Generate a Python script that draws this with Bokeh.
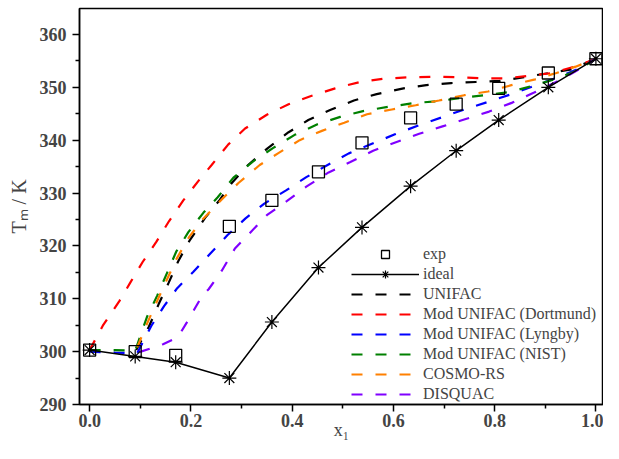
from bokeh.plotting import figure
from bokeh.models import FixedTicker, Legend, LegendItem
from bokeh.embed import file_html
from bokeh.resources import INLINE

# ---------------- data ----------------
x_exp = [0.0, 0.090, 0.170, 0.276, 0.360, 0.452, 0.538, 0.634, 0.724, 0.808, 0.906, 1.0]
T_exp = [300.3, 300.0, 299.3, 323.7, 328.6, 334.0, 339.5, 344.2, 346.8, 349.8, 352.7, 355.4]
T_ideal = [300.3, 299.1, 298.0, 295.0, 305.6, 315.9, 323.5, 331.3, 338.0, 343.8, 350.0, 355.4]

x_unifac = [0.092, 0.117, 0.136, 0.156, 0.175, 0.198, 0.228, 0.257, 0.28, 0.313, 0.352, 0.393,
            0.432, 0.475, 0.522, 0.567, 0.62, 0.665, 0.714, 0.763, 0.81, 0.87, 0.952, 1.0]
T_unifac = [300.3, 304.7, 308.9, 313.0, 317.1, 321.1, 325.3, 328.7, 331.8, 335.3, 338.5, 341.5,
            343.8, 345.7, 347.5, 348.7, 349.8, 350.4, 350.8, 351.0, 351.2, 352.1, 353.4, 355.4]

x_dort = [0.0, 0.026, 0.059, 0.08, 0.105, 0.132, 0.157, 0.185, 0.215, 0.241, 0.274, 0.307, 0.35,
          0.393, 0.436, 0.485, 0.534, 0.58, 0.632, 0.685, 0.726, 0.773, 0.822, 0.87, 0.913, 0.965, 1.0]
T_dort = [300.3, 304.9, 309.6, 313.0, 317.0, 320.8, 324.7, 328.6, 332.3, 335.3, 339.2, 342.2, 344.8,
          346.8, 348.3, 349.8, 351.0, 351.6, 351.9, 352.0, 351.9, 351.7, 351.7, 352.2, 352.7, 354.1, 355.4]

x_lyng = [0.0, 0.05, 0.094, 0.122, 0.147, 0.173, 0.205, 0.238, 0.272, 0.308, 0.345, 0.388, 0.428,
          0.47, 0.512, 0.56, 0.603, 0.65, 0.695, 0.74, 0.786, 0.83, 0.876, 0.923, 0.965, 1.0]
T_lyng = [300.0, 299.8, 299.7, 304.9, 308.6, 312.0, 315.1, 318.5, 322.0, 325.2, 328.0, 330.5, 333.0,
          335.3, 337.5, 339.4, 341.1, 342.8, 344.3, 345.8, 347.2, 348.6, 350.2, 351.8, 353.5, 355.4]

x_nist = [0.0, 0.05, 0.09, 0.097, 0.113, 0.133, 0.153, 0.171, 0.195, 0.225, 0.253, 0.284, 0.323,
          0.362, 0.405, 0.45, 0.495, 0.54, 0.59, 0.64, 0.69, 0.735, 0.78, 0.83, 0.876, 0.925, 0.965, 1.0]
T_nist = [300.3, 300.3, 300.2, 302.1, 306.5, 310.5, 314.9, 318.9, 322.6, 326.3, 329.2, 332.9, 336.0,
          338.5, 341.0, 343.0, 344.4, 345.5, 346.3, 347.0, 347.4, 348.0, 348.5, 349.1, 350.3, 351.7, 353.3, 355.4]

x_cosmo = [0.094, 0.112, 0.132, 0.152, 0.172, 0.196, 0.225, 0.26, 0.294, 0.336, 0.372, 0.415, 0.46,
           0.503, 0.548, 0.597, 0.644, 0.69, 0.74, 0.787, 0.833, 0.88, 0.922, 0.96, 1.0]
T_cosmo = [300.8, 305.0, 309.3, 313.5, 317.6, 321.6, 325.2, 328.7, 331.9, 335.3, 337.5, 340.0, 341.8,
           343.3, 344.9, 345.8, 346.6, 347.5, 348.5, 349.2, 350.4, 351.5, 352.7, 353.9, 355.4]

x_disq = [0.098, 0.12, 0.145, 0.165, 0.181, 0.195, 0.208, 0.222, 0.235, 0.261, 0.287, 0.318, 0.35,
          0.39, 0.428, 0.472, 0.514, 0.56, 0.605, 0.651, 0.697, 0.743, 0.789, 0.835, 0.878, 0.93, 0.965, 1.0]
T_disq = [299.9, 300.6, 301.4, 302.3, 303.8, 306.0, 308.2, 310.5, 311.8, 315.3, 319.5, 322.6, 325.8,
          328.5, 331.2, 333.9, 335.8, 338.0, 339.6, 341.2, 342.6, 344.0, 345.4, 347.1, 349.0, 351.4, 353.3, 355.4]

x_ticks = [0.0, 0.2, 0.4, 0.6, 0.8, 1.0]
x_minor = [0.1, 0.3, 0.5, 0.7, 0.9]
y_ticks = [290, 300, 310, 320, 330, 340, 350, 360]
y_minor = [295, 305, 315, 325, 335, 345, 355]

SERIF = "Liberation Serif"

p = figure(width=603, height=443, x_range=(-0.02, 1.015), y_range=(290, 364.9),
           output_backend="svg", toolbar_location=None,
           min_border_left=79, min_border_right=0, min_border_top=8, min_border_bottom=39)

p.grid.visible = False
p.outline_line_color = "black"
p.outline_line_width = 1.5
p.background_fill_color = "white"
p.border_fill_color = "white"

for ax in (p.xaxis[0], p.yaxis[0]):
    ax.major_tick_in = 0
    ax.major_tick_out = 7
    ax.minor_tick_in = 0
    ax.minor_tick_out = 4
    ax.axis_line_width = 1.5
    ax.major_tick_line_width = 1.5
    ax.minor_tick_line_width = 1.5
    ax.major_label_text_font = SERIF
    ax.major_label_text_font_style = "bold"
    ax.major_label_text_font_size = "18px"
    ax.axis_label_text_font = SERIF
    ax.axis_label_text_font_style = "normal"
    ax.axis_label_text_font_size = "18px"

p.xaxis.ticker = FixedTicker(ticks=x_ticks, minor_ticks=x_minor)
p.yaxis.ticker = FixedTicker(ticks=y_ticks, minor_ticks=y_minor)
p.xaxis.major_label_overrides = {0.0: "0.0", 1.0: "1.0"}
p.yaxis.axis_label = "Tₘ / K"
p.yaxis.axis_label_text_font_size = "20px"
p.xaxis.axis_label = "x₁"
p.xaxis.major_label_standoff = 2
p.xaxis.axis_label_standoff = -10
p.yaxis.major_label_standoff = 6
p.yaxis.axis_label_standoff = 7

DASH = "11 13"
LW = 2.2
r_unifac = p.line(x_unifac, T_unifac, line_color="#000000", line_width=LW, line_dash=DASH)
r_dort = p.line(x_dort, T_dort, line_color="#FF0000", line_width=LW, line_dash=DASH)
r_lyng = p.line(x_lyng, T_lyng, line_color="#0000FF", line_width=LW, line_dash=DASH)
r_nist = p.line(x_nist, T_nist, line_color="#008000", line_width=LW, line_dash=DASH)
r_cosmo = p.line(x_cosmo, T_cosmo, line_color="#FF8000", line_width=LW, line_dash=DASH)
r_disq = p.line(x_disq, T_disq, line_color="#8000FF", line_width=LW, line_dash=DASH)

r_iline = p.line(x_exp, T_ideal, line_color="black", line_width=1.5)
r_istar = p.scatter(x_exp, T_ideal, marker="asterisk", size=14, line_color="black", line_width=1.2)
r_exp = p.scatter(x_exp, T_exp, marker="square", size=12, line_color="black",
                  line_width=1.3, fill_color=None)

items = [
    LegendItem(label="exp", renderers=[r_exp]),
    LegendItem(label="ideal", renderers=[r_iline, r_istar]),
    LegendItem(label="UNIFAC", renderers=[r_unifac]),
    LegendItem(label="Mod UNIFAC (Dortmund)", renderers=[r_dort]),
    LegendItem(label="Mod UNIFAC (Lyngby)", renderers=[r_lyng]),
    LegendItem(label="Mod UNIFAC (NIST)", renderers=[r_nist]),
    LegendItem(label="COSMO-RS", renderers=[r_cosmo]),
    LegendItem(label="DISQUAC", renderers=[r_disq]),
]
legend = Legend(items=items, location=(272, 0), glyph_width=68, glyph_height=20,
                label_height=20, spacing=0, label_standoff=4, padding=0, margin=0,
                border_line_alpha=0, background_fill_alpha=0,
                label_text_font=SERIF, label_text_font_size="16px")
p.add_layout(legend, "center")

open("out.html", "w").write(file_html(p, INLINE))
